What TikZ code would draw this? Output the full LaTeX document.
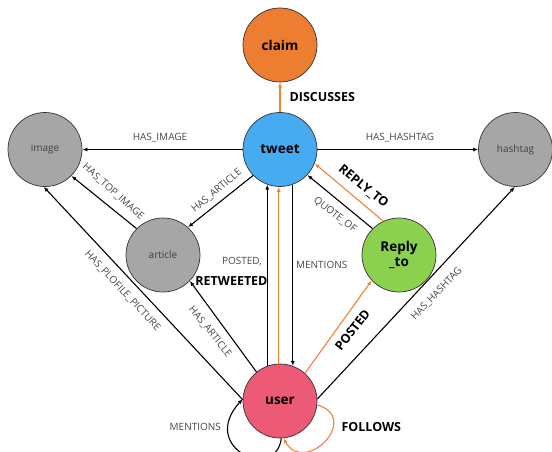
\documentclass[tikz,border=0pt]{standalone}
\usepackage{fontspec}
\setmainfont{Open Sans}
\usetikzlibrary{arrows.meta}
\definecolor{claimc}{RGB}{237,125,49}
\definecolor{tweetc}{RGB}{70,171,240}
\definecolor{grayc}{RGB}{166,166,166}
\definecolor{replyc}{RGB}{140,208,80}
\definecolor{userc}{RGB}{236,90,118}
\definecolor{orangeedge}{RGB}{240,130,55}
\definecolor{labelc}{RGB}{70,70,70}
\tikzset{
  entity/.style={circle, draw=black!80, line width=0.7pt, minimum size=74pt, inner sep=0pt},
  bigtext/.style={font=\fontsize{13.5}{15}\selectfont\bfseries},
  smalltext/.style={font=\fontsize{10}{12}\selectfont, text=black!75},
  rel/.style={draw=black, line width=1.1pt, -{Latex[length=5pt,width=4pt]}},
  orel/.style={draw=orangeedge, line width=1.1pt, -{Latex[length=5pt,width=4pt]}},
  lab/.style={font=\fontsize{10}{12}\selectfont, text=labelc, inner sep=0pt},
  blab/.style={font=\fontsize{12.5}{14}\selectfont\bfseries, text=black, inner sep=0pt}
}
\begin{document}
\begin{tikzpicture}[x=1pt,y=-1pt]
\useasboundingbox (0,0) rectangle (552,452);
% nodes
\node[entity, fill=claimc, bigtext] (claim) at (280,45) {claim};
\node[entity, fill=tweetc, bigtext] (tweet) at (280,149.5) {tweet};
\node[entity, fill=grayc, smalltext] (image) at (45,149.5) {image};
\node[entity, fill=grayc, smalltext] (hashtag) at (515.5,149.5) {hashtag};
\node[entity, fill=grayc, smalltext] (article) at (163,255) {article};
\node[entity, fill=replyc, bigtext, align=center] (reply) at (399,255) {Reply\\\_to};
\node[entity, fill=userc, bigtext] (user) at (280,401) {user};
% edges
\draw[orel] (tweet) -- (claim);
\draw[rel] (tweet) -- (image);
\draw[rel] (tweet) -- (hashtag);
\draw[rel] (tweet.224) -- (article.48);
\draw[rel] (article.135) -- (image.-45);
\draw[rel] (user.178) -- (image.-92);
\draw[rel] (user.129.5) -- (article.-44.7);
\draw[rel] (user.110) -- (tweet.250);
\draw[orel] (user.92) -- (tweet.268);
\draw[rel] (tweet.290) -- (user.70);
\draw[rel] (reply.135) -- (tweet.-43.6);
\draw[orel] (reply.115) -- (tweet.-22.6);
\draw[orel] (user.48) -- (reply.223.6);
\draw[rel] (user.3) -- (hashtag.-91);
\draw[rel] (user.-88) .. controls (276,482) and (198,448) .. (user.177);
\draw[orel] (user.-6) .. controls (362,418) and (305,476) .. (user.-85);
% labels
\node[blab] (lDisc) at (322.3,97) {DISCUSSES};
\node[lab] (lHasImg) at (160,137.3) {HAS\_IMAGE};
\node[lab] (lHasHash) at (400,137.3) {HAS\_HASHTAG};
\node[lab, rotate=-41.5] (lTopImg) at (113.3,191.7) {HAS\_TOP\_IMAGE};
\node[lab, rotate=40] (lHasArt1) at (216.7,191) {HAS\_ARTICLE};
\node[lab, rotate=-47] (lProf) at (122.5,290.8) {HAS\_PLOFILE\_PICTURE};
\node[lab, rotate=-51] (lHasArt2) at (210,331.7) {HAS\_ARTICLE};
\node[lab, anchor=east] (lPosted) at (262,261.7) {POSTED,};
\node[blab, anchor=east] (lRetw) at (267.7,280.7) {RETWEETED};
\node[lab] (lMent1) at (321.7,265) {MENTIONS};
\node[lab, rotate=-38] (lQuote) at (335,215) {QUOTE\_OF};
\node[blab, rotate=-39] (lReply) at (363.3,186.7) {REPLY\_TO};
\node[blab, rotate=52] (lPosted2) at (352.5,330) {POSTED};
\node[lab, rotate=46.5] (lHasHash2) at (436.7,294) {HAS\_HASHTAG};
\node[lab] (lMent2) at (195.3,426.7) {MENTIONS};
\node[blab] (lFollows) at (371.3,426.7) {FOLLOWS};
\end{tikzpicture}
\end{document}
